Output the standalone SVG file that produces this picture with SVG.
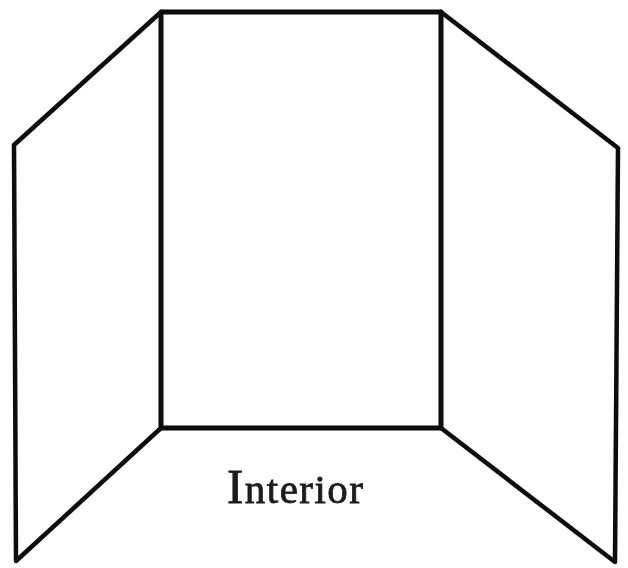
<svg xmlns="http://www.w3.org/2000/svg" width="628" height="568" viewBox="0 0 628 568">
<defs><filter id="soft" x="-5%" y="-5%" width="110%" height="110%"><feGaussianBlur stdDeviation="0.7"/></filter></defs>
<style>
.l{fill:none;stroke:#0a0a0a;stroke-linejoin:round;stroke-linecap:round}
.a{stroke-width:5}
.b{stroke-width:4.5}
text{font-family:"Liberation Serif",serif;font-size:41px;fill:#1c1c1c;stroke:#1c1c1c;stroke-width:.8}
</style>
<rect width="628" height="568" fill="#fff"/>
<g id="connectors" filter="url(#soft)">
<path class="l a" d="M161 12H441V428H161Z"/>
<path class="l b" d="M161 12L14 145L16 561L161 428"/>
<path class="l b" d="M441 12L618 148L615 562L441 428"/>
</g>
<g id="label" filter="url(#soft)"><text x="227" y="503" textLength="136" lengthAdjust="spacing"><tspan font-size="49">I</tspan>nterior</text></g>
</svg>
